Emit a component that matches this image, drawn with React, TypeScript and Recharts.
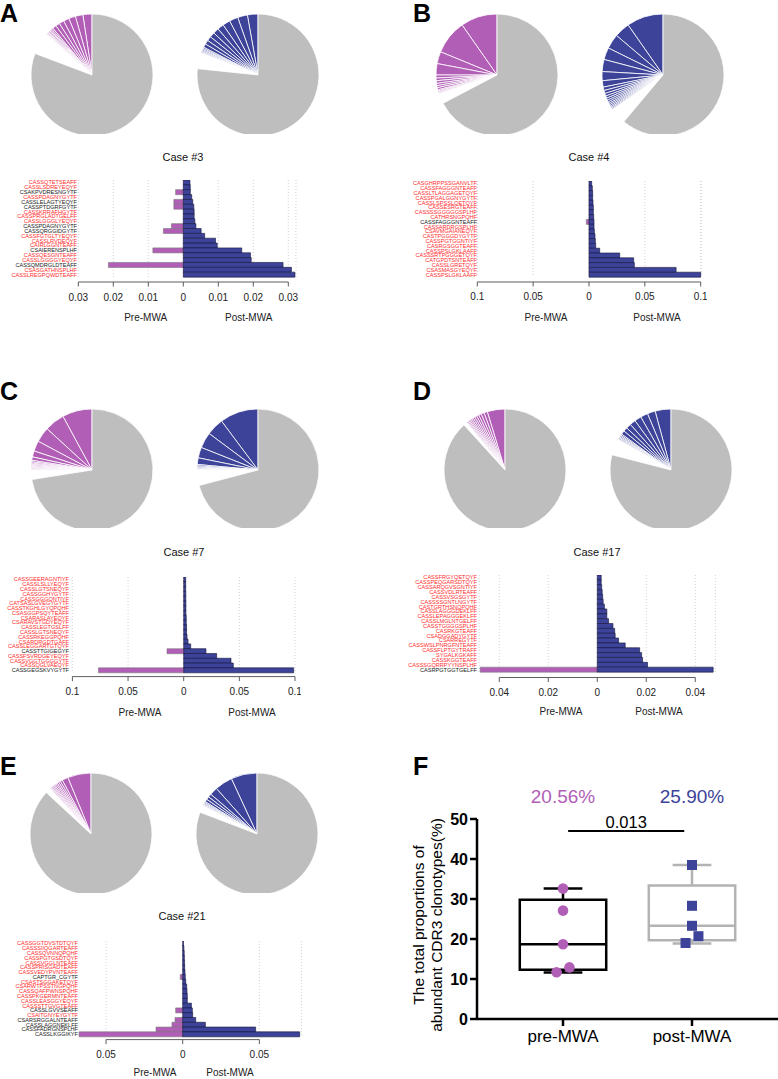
import React from "react";
import {
  Bar,
  BarChart,
  CartesianGrid,
  Cell,
  Pie,
  PieChart,
  ReferenceArea,
  ReferenceLine,
  Scatter,
  ScatterChart,
  XAxis,
  YAxis
} from "recharts";

const PURPLE = "#b15eb6";
const BLUE = "#3c4398";
const GRAY = "#bebebe";
const RED = "#ff2b2b";
const FONT = "'Liberation Sans', Arial, Helvetica, sans-serif";

// ---------- Case #3 (A) ----------
const case3Labels = [
  "CASSQTETSEAFF", "CASSLSDREYEQYF", "CSAKPVDRESNGYTF", "CASSPDAGNYGYTF", "CASSLELAGTYEQYF",
  "CASSPTDGRFGYTF", "CASSKRRAFHGYTF", "CASSPRGLADTGELFF", "CASSLGGGLYEQYF", "CASSPDAGNYGYTF",
  "CASSQRGGIDGYTF", "CASSFGTGLTYEQYF", "CASSLRVDEQYF", "CAIRLGGNTEAFF", "CSAIERENSPLHF",
  "CASSQESGNTEAFF", "CASSLGGGGYEQYF", "CASSQMDRGLDTEAFF", "CSASGATHNSPLHF", "CASSLREGPQWDTEAFF"
];
const case3Pre = [0, 0, 0.0022, 0, 0.0027, 0.0027, 0, 0, 0, 0.0034, 0.0057, 0, 0, 0, 0.0087, 0, 0, 0.0214, 0, 0];
const case3Post = [0.0019, 0.002, 0.002, 0.0024, 0.0027, 0.003, 0.0031, 0.0031, 0.0033, 0.0036, 0.0051, 0.0061, 0.0092, 0.0097, 0.0167, 0.0192, 0.0194, 0.0285, 0.0309, 0.0319];
const case3PieTopPre = [2.4, 2.0, 1.8, 1.5, 1.3, 1.1, 1.0, 0.4, 0.35, 0.3, 0.3, 0.25, 0.25, 0.2, 0.2];
const case3PieTopPost = [2.8, 2.6, 2.3, 2.0, 1.7, 1.5, 1.35, 1.2, 1.1, 0.95, 0.35, 0.3, 0.3, 0.25, 0.25, 0.2];
const case3PieTail = [5.9, 4.2];
const case3PieRest = [80.8, 76.7];

// ---------- Case #4 (B) ----------
const case4Labels = [
  "CASGHRPPSSGANVLTF", "CASSFAGGGNTEAFF", "CASSLTLAGGAGETQYF", "CASSPGALGGNYGYTF", "CASSLSPSSLQETQYF",
  "CASSESRGTEAFF", "CASSSSGGGGGSPLHF", "CATHRSNGPQHF", "CASSFAGGGNTEAFF", "CASSARDRGSPLHF",
  "CSAVMGAIANEQYF", "CASTPGGGDYGYTF", "CASSPGTGGNTIYF", "CASRGSGGTEAFF", "CASSPSLGKLAAFF",
  "CASSSRTPGGGETQYF", "CATGPDTSNTEAFF", "CASSLGRETQYF", "CSASMASGYEQYF", "CASSPSLGKLAAFF"
];
const case4Pre = [0, 0, 0, 0, 0, 0, 0, 0, 0.0024, 0, 0, 0, 0, 0, 0, 0, 0, 0, 0, 0];
const case4Post = [0.0024, 0.003, 0.0033, 0.0033, 0.0036, 0.0039, 0.0039, 0.0042, 0.0045, 0.0045, 0.0048, 0.0054, 0.0057, 0.006, 0.0096, 0.0275, 0.04, 0.0406, 0.078, 0.1];
const case4PieTopPre = [9.7, 9.1, 3.2, 3.0, 0.8, 0.7, 0.7, 0.6, 0.55, 0.55, 0.3, 0.3, 0.25, 0.25];
const case4PieTopPost = [9.7, 4.1, 3.9, 3.2, 3.2, 2.4, 1.7, 0.9, 0.8, 0.7, 0.6, 0.55, 0.5, 0.45, 0.4, 0.4, 0.35, 0.3, 0.3];
const case4PieTail = [2.7, 4.45];
const case4PieRest = [67.3, 61.1];

// ---------- Case #7 (C) ----------
const case7Labels = [
  "CASSGEERAGNTIYF", "CASSLSLLYEQYF", "CASSLGTSNEQYF", "CASSGGHYGYTF", "CASSGGGQNTIYF",
  "CATSASLGVEGYGYTF", "CASSTKGHLGYQPQHF", "CSASGGPSQYTEAFF", "CSARASLAYEQYF", "CSARAVSTGDYEQYF",
  "CASSLEGTGSLFF", "CASSLGTSNEQYF", "CASSRKEGGPQHF", "CSARDRGDTGAFF", "CASSLEGGARTGTQYF",
  "CASSTTGIGEGYF", "CASSFSVRDGEYEQYF", "CASSVGGTGGGGYTF", "CASSQGLVAEQYF", "CASSGEGSKVYGYTF"
];
const case7Pre = [0, 0, 0, 0, 0, 0, 0, 0, 0, 0, 0, 0, 0, 0, 0, 0.015, 0, 0, 0, 0.0766];
const case7Post = [0.0018, 0.0018, 0.0018, 0.0019, 0.0019, 0.002, 0.002, 0.002, 0.0023, 0.0023, 0.0026, 0.0026, 0.003, 0.0039, 0.0063, 0.02, 0.0296, 0.0425, 0.0446, 0.0988];
const case7PieTopPre = [7.9, 5.3, 4.0, 2.75, 1.6, 0.9, 0.4, 0.35, 0.3, 0.3, 0.25, 0.25, 0.2, 0.2, 0.2, 0.15];
const case7PieTopPost = [10.2, 4.6, 4.2, 2.8, 1.75, 0.35, 0.3, 0.25, 0.2, 0.2, 0.15];
const case7PieTail = [2.45, 4.1];
const case7PieRest = [72.5, 70.9];

// ---------- Case #17 (D) ----------
const case17Labels = [
  "CASSFRGYQETQYF", "CASSPEQGARSDTQYF", "CASSARQGVSGNTIYF", "CASSVDLRTEAFF", "CASSVSGSGYTF",
  "CASSSSGNTLNGYTF", "CASTGRTHSNQPQHF", "CASSLAGGGDEKLFF", "CASSLEPAGGGEKLFF", "CASSLMGLNTGELFF",
  "CASSTGGGGSPLHF", "CASRKGTEAFF", "CSADGGADYGYTF", "CSARREGYTF", "CASSWSLPNRGFNTEAFF",
  "CASSFLPTGYTRAFF", "SYGALKGKAFF", "CASSKGGTEAFF", "CASSSGQRRPYYNSPLHF", "CASRPGTGGTGELFF"
];
const case17Pre = [0, 0, 0, 0, 0, 0, 0, 0, 0, 0, 0, 0, 0, 0, 0, 0, 0, 0, 0, 0.0478];
const case17Post = [0.0016, 0.0016, 0.0018, 0.002, 0.0022, 0.0024, 0.0029, 0.0039, 0.0039, 0.0046, 0.0064, 0.0071, 0.0073, 0.0087, 0.0114, 0.0173, 0.0181, 0.0185, 0.0205, 0.0473];
const case17PieTopPre = [4.7, 0.9, 0.8, 0.7, 0.6, 0.55, 0.5, 0.45, 0.4, 0.35, 0.3, 0.3, 0.25];
const case17PieTopPost = [4.2, 2.1, 1.95, 1.8, 1.55, 1.3, 1.1, 1.0, 0.35, 0.3, 0.3, 0.25, 0.25, 0.25];
const case17PieTail = [0.95, 4.3];
const case17PieRest = [88.25, 79.0];

// ---------- Case #21 (E) ----------
const case21Labels = [
  "CASSGGTDVSTDTQYF", "CASSSIIQGARTEAFF", "CASSQVNNQPQHF", "CASSPGTGSDTQYF", "CASSVGGLNTEAFF",
  "CASSPRISGADTEAFF", "CASSVEDYPVNTEAFF", "CAPTGR_CGYTF", "CSASTSGGAKETQYF", "CSARWTPSSTNGPQHF",
  "CASSQAFPWNSPQHF", "CASSPKGERMNTEAFF", "CASSLEASGGYEQYF", "CASSSTTGVGTEAFF", "CASSLGVVSEAFF",
  "CSAITGNYEYGYTF", "CSARSRGGALNTEAFF", "CASSLAGGNEKLFF", "CASSFADRGNSPLHF", "CASSLKGGIKYF"
];
const case21Pre = [0, 0, 0, 0, 0, 0, 0, 0.0016, 0, 0, 0, 0, 0, 0, 0.0046, 0, 0.005, 0.007, 0.0174, 0.0676];
const case21Post = [0.0005, 0.0008, 0.001, 0.0011, 0.0012, 0.0013, 0.0015, 0.0017, 0.002, 0.0026, 0.0028, 0.003, 0.003, 0.0057, 0.0063, 0.0065, 0.0085, 0.0148, 0.0476, 0.0763];
const case21PieTopPre = [6.2, 1.6, 0.6, 0.5, 0.45, 0.4, 0.4, 0.35, 0.3, 0.3, 0.25, 0.25];
const case21PieTopPost = [6.9, 4.7, 2.1, 0.9, 0.8, 0.7, 0.3, 0.25, 0.25, 0.2, 0.2];
const case21PieTail = [1.5, 1.9];
const case21PieRest = [86.9, 80.8];

// ---------- F: total proportion of abundant clonotypes ----------
const groups = ["pre-MWA", "post-MWA"];
const groupMeans = ["20.56%", "25.90%"];
const pValue = "0.013";
const preValues = [32.6, 27.1, 18.7, 12.9, 11.7];
const preJitter = [0, 0, 0, 0.05, -0.05];
const postValues = [38.5, 28.3, 23.3, 20.7, 19.0];
const postJitter = [0, 0, 0, 0.05, -0.05];
const boxMin = [11.6, 18.9];
const boxQ1 = [12.3, 19.7];
const boxMedian = [18.7, 23.3];
const boxQ3 = [29.8, 33.4];
const boxMax = [32.6, 38.5];

type Geo = {
  left: number;
  top: number;
  rowH: number;
  zeroX: number;
  ppu: number;
  maxAbs: number;
  ticks: number[];
  step: number;
  labelRight: number;
  axisGap: number;
};

type Row = { row: string; label: string; pre: number; post: number; shared: boolean };

function CloneTick(props: any) {
  const { x, y, payload, rows, shift } = props;
  const r = (rows as Row[]).find((d) => d.row === payload.value);
  if (!r) return null;
  return (
    <text x={x + shift} y={y} dy="0.36em" textAnchor="end" fontSize={5.6} fill={r.shared ? "#1a1a1a" : RED}>
      {r.label}
    </text>
  );
}

function ValueTick(props: any) {
  const { x, y, payload, geo } = props;
  const g = geo as Geo;
  const v: number = payload.value;
  const ay = y + g.axisGap;
  const last = v >= g.ticks[g.ticks.length - 1] - 1e-9;
  return (
    <g>
      {!last && <line x1={x} x2={x + g.step * g.ppu} y1={ay} y2={ay} stroke="#333" strokeWidth={0.8} />}
      <line x1={x} x2={x} y1={ay} y2={ay + 4.5} stroke="#333" strokeWidth={0.8} />
      <text x={x} y={ay + 18.5} textAnchor="middle" fontSize={10} fill="#222">
        {String(Math.abs(v))}
      </text>
    </g>
  );
}

function Butterfly({ labels, pre, post, geo }: { labels: string[]; pre: number[]; post: number[]; geo: Geo }) {
  const rows: Row[] = labels.map((label, i) => ({
    row: `r${i}`,
    label,
    pre: -pre[i],
    post: post[i],
    shared: pre[i] > 0
  }));
  const plotLeft = geo.zeroX - geo.maxAbs * geo.ppu;
  const plotW = 2 * geo.maxAbs * geo.ppu;
  const yAxisW = plotLeft - geo.left;
  const plotH = geo.rowH * rows.length;
  const axisH = 34;
  return (
    <div style={{ position: "absolute", left: geo.left, top: geo.top }}>
      <BarChart
        layout="vertical"
        width={yAxisW + plotW + 6}
        height={plotH + axisH}
        data={rows}
        margin={{ top: 0, right: 6, bottom: 0, left: 0 }}
        stackOffset="sign"
        barCategoryGap={0}
      >
        <CartesianGrid horizontal={false} stroke="#d2d2d2" strokeDasharray="1 2" />
        <XAxis
          type="number"
          domain={[-geo.maxAbs, geo.maxAbs]}
          ticks={geo.ticks}
          interval={0}
          height={axisH}
          axisLine={false}
          tickLine={false}
          tickSize={0}
          tickMargin={0}
          tick={(p: any) => <ValueTick {...p} geo={geo} />}
        />
        <YAxis
          type="category"
          dataKey="row"
          width={yAxisW}
          interval={0}
          axisLine={false}
          tickLine={false}
          tickSize={0}
          tickMargin={0}
          tick={(p: any) => <CloneTick {...p} rows={rows} shift={geo.labelRight - plotLeft} />}
        />
        <Bar dataKey="pre" stackId="s" fill={PURPLE} stroke="#7a7a7a" strokeWidth={0.6} isAnimationActive={false} />
        <Bar dataKey="post" stackId="s" fill={BLUE} stroke="#15153a" strokeWidth={0.6} isAnimationActive={false} />
      </BarChart>
    </div>
  );
}

function ClonePie({ top, tail, rest, color, cx, y, clip }: {
  top: number[]; tail: number; rest: number; color: string; cx: number; y: number; clip: number;
}) {
  const R = 61;
  const data = [
    ...top.map((v, i) => ({ name: `c${i}`, value: v, fill: color })),
    { name: "tail", value: tail, fill: "#ffffff" },
    { name: "rest", value: rest, fill: GRAY }
  ];
  return (
    <div style={{ position: "absolute", left: cx - R - 2, top: y - 2 }}>
      <PieChart width={2 * R + 4} height={clip - y + 2} margin={{ top: 0, right: 0, bottom: 0, left: 0 }}>
        <Pie
          data={data}
          dataKey="value"
          cx={R + 2}
          cy={R + 2}
          innerRadius={0}
          outerRadius={R}
          startAngle={90}
          endAngle={450}
          stroke="#ffffff"
          strokeWidth={0.8}
          label={false}
          labelLine={false}
          isAnimationActive={false}
        >
          {data.map((d) => (
            <Cell key={d.name} fill={d.fill} />
          ))}
        </Pie>
      </PieChart>
    </div>
  );
}

function BoxPanel() {
  const prePts = preValues.map((v, i) => ({ x: 1 + preJitter[i], y: v }));
  const postPts = postValues.map((v, i) => ({ x: 2 + postJitter[i], y: v }));
  const boxHalf = 0.335;
  const capHalf = 0.15;
  const boxColors = ["#000000", "#b3b3b3"];
  const marks: React.ReactElement[] = [];
  groups.forEach((g, i) => {
    const c = boxColors[i];
    const xc = i + 1;
    marks.push(
      <ReferenceArea key={`box${i}`} x1={xc - boxHalf} x2={xc + boxHalf} y1={boxQ1[i]} y2={boxQ3[i]}
        fill="none" fillOpacity={0} stroke={c} strokeWidth={2.5} />,
      <ReferenceLine key={`med${i}`} segment={[{ x: xc - boxHalf, y: boxMedian[i] }, { x: xc + boxHalf, y: boxMedian[i] }]}
        stroke={c} strokeWidth={2.5} />,
      <ReferenceLine key={`wu${i}`} segment={[{ x: xc, y: boxQ3[i] }, { x: xc, y: boxMax[i] }]} stroke={c} strokeWidth={2.5} />,
      <ReferenceLine key={`wl${i}`} segment={[{ x: xc, y: boxQ1[i] }, { x: xc, y: boxMin[i] }]} stroke={c} strokeWidth={2.5} />,
      <ReferenceLine key={`cu${i}`} segment={[{ x: xc - capHalf, y: boxMax[i] }, { x: xc + capHalf, y: boxMax[i] }]}
        stroke={c} strokeWidth={2.5} />,
      <ReferenceLine key={`cl${i}`} segment={[{ x: xc - capHalf, y: boxMin[i] }, { x: xc + capHalf, y: boxMin[i] }]}
        stroke={c} strokeWidth={2.5} />
    );
  });
  return (
    <div style={{ position: "absolute", left: 400, top: 805 }}>
      <ScatterChart width={378} height={274} margin={{ top: 14, right: 0, bottom: 0, left: 0 }}>
        <XAxis
          type="number"
          dataKey="x"
          domain={[1 / 3, 8 / 3]}
          ticks={[1, 2]}
          interval={0}
          allowDataOverflow
          height={60}
          tickFormatter={(v: number) => groups[Math.round(v) - 1]}
          axisLine={{ stroke: "#000", strokeWidth: 2.5 }}
          tickLine={{ stroke: "#000", strokeWidth: 2.5 }}
          tickSize={7}
          tickMargin={4}
          tick={{ fontSize: 17, fill: "#000" }}
        />
        <YAxis
          type="number"
          dataKey="y"
          domain={[0, 50]}
          ticks={[0, 10, 20, 30, 40, 50]}
          interval={0}
          allowDataOverflow
          width={77}
          axisLine={{ stroke: "#000", strokeWidth: 2.5 }}
          tickLine={{ stroke: "#000", strokeWidth: 2.5 }}
          tickSize={7}
          tickMargin={2}
          tick={{ fontSize: 16, fontWeight: 700, fill: "#000" }}
        />
        {marks}
        <ReferenceLine
          segment={[{ x: 1.04, y: 47 }, { x: 1.94, y: 47 }]}
          stroke="#000"
          strokeWidth={2}
          label={{ value: pValue, position: "top", offset: 3, fontSize: 16.5, fill: "#000" }}
        />
        <Scatter
          data={prePts}
          isAnimationActive={false}
          shape={(p: any) => <circle cx={p.cx} cy={p.cy} r={5.3} fill={PURPLE} />}
        />
        <Scatter
          data={postPts}
          isAnimationActive={false}
          shape={(p: any) => <rect x={p.cx - 5} y={p.cy - 5} width={10} height={10} fill={BLUE} />}
        />
      </ScatterChart>
    </div>
  );
}

const geoA: Geo = { left: 0, top: 180, rowH: 4.85, zeroX: 183.3, ppu: 3500, maxAbs: 0.0322,
  ticks: [-0.03, -0.02, -0.01, 0, 0.01, 0.02, 0.03], step: 0.01, labelRight: 77, axisGap: 5 };
const geoB: Geo = { left: 390, top: 180.5, rowH: 4.8, zeroX: 589, ppu: 1117, maxAbs: 0.1005,
  ticks: [-0.1, -0.05, 0, 0.05, 0.1], step: 0.05, labelRight: 477, axisGap: 5 };
const geoC: Geo = { left: 0, top: 576.5, rowH: 4.78, zeroX: 183.7, ppu: 1113, maxAbs: 0.1,
  ticks: [-0.1, -0.05, 0, 0.05, 0.1], step: 0.05, labelRight: 69, axisGap: 4 };
const geoD: Geo = { left: 390, top: 575, rowH: 4.85, zeroX: 597.3, ppu: 2450, maxAbs: 0.0482,
  ticks: [-0.04, -0.02, 0, 0.02, 0.04], step: 0.02, labelRight: 477, axisGap: 5.5 };
const geoE: Geo = { left: 0, top: 940.5, rowH: 4.78, zeroX: 182.7, ppu: 1533, maxAbs: 0.0775,
  ticks: [-0.05, 0, 0.05], step: 0.05, labelRight: 78, axisGap: 3 };

const letters: [string, number, number][] = [
  ["A", 0, 22], ["B", 413, 22], ["C", 0, 400], ["D", 413, 400], ["E", 0, 775], ["F", 413, 775]
];
const cases: [string, number, number][] = [
  ["Case #3", 183, 161], ["Case #4", 589, 161], ["Case #7", 184, 556], ["Case #17", 597, 556], ["Case #21", 182, 920]
];
const sides: [number, number, number][] = [
  [145.7, 248.7, 320.5], [546, 657, 320.5], [140, 252, 715.5], [561, 659, 714.5], [155, 230, 1076]
];

export default function App() {
  return (
    <div
      style={{
        position: "absolute",
        left: 0,
        top: 0,
        width: 778,
        height: 1079,
        overflow: "hidden",
        background: "#fff",
        fontFamily: FONT
      }}
    >
      <ClonePie top={case3PieTopPre} tail={case3PieTail[0]} rest={case3PieRest[0]} color={PURPLE} cx={92} y={14} clip={134} />
      <ClonePie top={case3PieTopPost} tail={case3PieTail[1]} rest={case3PieRest[1]} color={BLUE} cx={258} y={14} clip={134} />
      <ClonePie top={case4PieTopPre} tail={case4PieTail[0]} rest={case4PieRest[0]} color={PURPLE} cx={496.5} y={14} clip={134} />
      <ClonePie top={case4PieTopPost} tail={case4PieTail[1]} rest={case4PieRest[1]} color={BLUE} cx={663} y={14} clip={134} />
      <ClonePie top={case7PieTopPre} tail={case7PieTail[0]} rest={case7PieRest[0]} color={PURPLE} cx={92} y={409} clip={528} />
      <ClonePie top={case7PieTopPost} tail={case7PieTail[1]} rest={case7PieRest[1]} color={BLUE} cx={258} y={409} clip={528} />
      <ClonePie top={case17PieTopPre} tail={case17PieTail[0]} rest={case17PieRest[0]} color={PURPLE} cx={504.5} y={409} clip={528} />
      <ClonePie top={case17PieTopPost} tail={case17PieTail[1]} rest={case17PieRest[1]} color={BLUE} cx={671} y={409} clip={528} />
      <ClonePie top={case21PieTopPre} tail={case21PieTail[0]} rest={case21PieRest[0]} color={PURPLE} cx={91} y={773} clip={893} />
      <ClonePie top={case21PieTopPost} tail={case21PieTail[1]} rest={case21PieRest[1]} color={BLUE} cx={257} y={773} clip={893} />

      <Butterfly labels={case3Labels} pre={case3Pre} post={case3Post} geo={geoA} />
      <Butterfly labels={case4Labels} pre={case4Pre} post={case4Post} geo={geoB} />
      <Butterfly labels={case7Labels} pre={case7Pre} post={case7Post} geo={geoC} />
      <Butterfly labels={case17Labels} pre={case17Pre} post={case17Post} geo={geoD} />
      <Butterfly labels={case21Labels} pre={case21Pre} post={case21Post} geo={geoE} />

      <BoxPanel />

      <svg
        width={778}
        height={1079}
        style={{ position: "absolute", left: 0, top: 0, pointerEvents: "none" }}
      >
        {letters.map(([t, x, y]) => (
          <text key={t} x={x} y={y} fontSize={25} fontWeight={700} fill="#000">{t}</text>
        ))}
        {cases.map(([t, x, y]) => (
          <text key={t} x={x} y={y} fontSize={11} textAnchor="middle" fill="#111">{t}</text>
        ))}
        {sides.map(([a, b, y], i) => (
          <g key={`s${i}`}>
            <text x={a} y={y} fontSize={10} textAnchor="middle" fill="#222">Pre-MWA</text>
            <text x={b} y={y} fontSize={10} textAnchor="middle" fill="#222">Post-MWA</text>
          </g>
        ))}
        <text x={563} y={803} fontSize={19} textAnchor="middle" fill={PURPLE}>{groupMeans[0]}</text>
        <text x={692} y={803} fontSize={19} textAnchor="middle" fill={BLUE}>{groupMeans[1]}</text>
        <g transform="translate(0,925)">
          <text x={0} y={0} transform="translate(423.5,0) rotate(-90)" fontSize={15.5} textAnchor="middle" fill="#000">
            The total proportions of
          </text>
          <text x={0} y={0} transform="translate(442,0) rotate(-90)" fontSize={15.5} textAnchor="middle" fill="#000">
            abundant CDR3 clonotypes(%)
          </text>
        </g>
      </svg>
    </div>
  );
}
